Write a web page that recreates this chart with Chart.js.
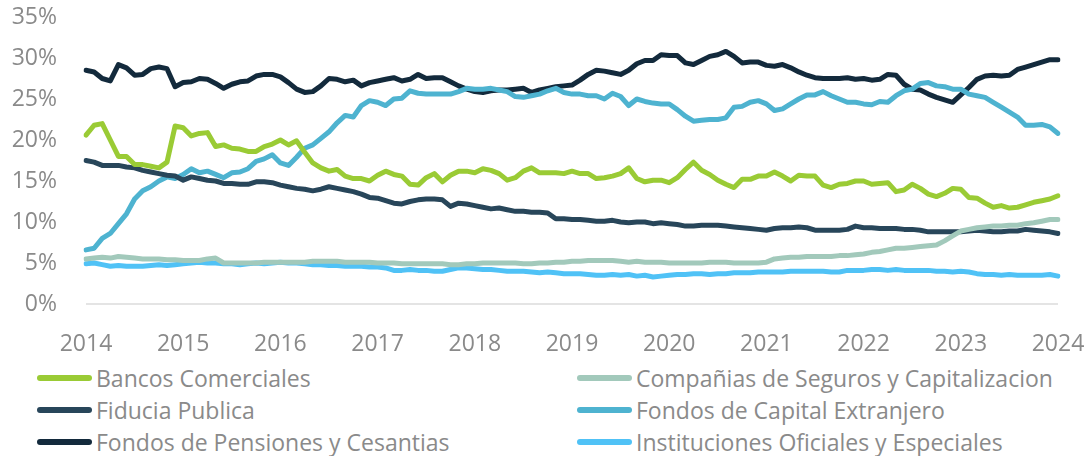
<!DOCTYPE html>
<html>
<head>
<meta charset="utf-8">
<script src="https://cdn.jsdelivr.net/npm/chart.js@4/dist/chart.umd.min.js"></script>
<style>
  body { margin: 0; background: #fff; font-family: "Open Sans", sans-serif; }
  #wrap { position: relative; width: 1087px; height: 362px; }
  #legend {
    position: absolute; top: 362px; left: 0; width: 1087px;
    display: grid; grid-template-columns: 577px 510px;
  }
  .item { display: flex; align-items: center; height: 32px; padding-left: 37px; color: #8a8a8a; font-size: 23px; font-weight: 400; }
  .item:nth-child(2n) { padding-left: 0; }
  .sw { width: 55px; height: 6px; border-radius: 3px; margin-right: 4px; }
</style>
</head>
<body>
<div id="wrap"><canvas id="myChart"></canvas></div>
<div id="legend"></div>
<script>
// monthly, Jan 2014 .. Jan 2024
const months = [];
for (let y = 2014; y <= 2024; y++) {
  for (let m = 1; m <= 12; m++) {
    if (y === 2024 && m > 1) break;
    months.push(y + '-' + String(m).padStart(2, '0'));
  }
}

const yTicks = [0, 5, 10, 15, 20, 25, 30, 35];

const bancos = [
  20.6, 21.8, 22.0, 20.0, 18.0, 18.0, 17.0, 17.0, 16.8, 16.6, 17.3, 21.7,
  21.5, 20.5, 20.8, 20.9, 19.2, 19.4, 19.0, 18.9, 18.6, 18.6, 19.2, 19.5,
  20.0, 19.4, 19.9, 18.5, 17.2, 16.6, 16.2, 16.4, 15.6, 15.3, 15.3, 15.0,
  15.7, 16.2, 15.8, 15.6, 14.6, 14.5, 15.4, 15.9, 14.9, 15.7, 16.2, 16.2,
  16.0, 16.5, 16.3, 15.9, 15.1, 15.4, 16.2, 16.6, 16.0, 16.0, 16.0, 15.9,
  16.2, 15.9, 15.9, 15.3, 15.4, 15.6, 15.9, 16.6, 15.3, 14.9, 15.1, 15.1,
  14.8, 15.4, 16.4, 17.3, 16.3, 15.8, 15.1, 14.6, 14.2, 15.2, 15.2, 15.6,
  15.6, 16.1, 15.6, 15.0, 15.7, 15.6, 15.6, 14.5, 14.2, 14.6, 14.7, 15.0,
  15.0, 14.6, 14.7, 14.8, 13.7, 13.9, 14.6, 14.1, 13.4, 13.1, 13.5, 14.1,
  14.0, 13.0, 12.9, 12.3, 11.8, 12.0, 11.7, 11.8, 12.1, 12.4, 12.6, 12.8,
  13.2
];

const seguros = [
  5.5, 5.6, 5.7, 5.6, 5.8, 5.7, 5.6, 5.5, 5.5, 5.5, 5.4, 5.4,
  5.3, 5.3, 5.3, 5.5, 5.6, 5.0, 5.0, 5.0, 5.0, 5.0, 5.1, 5.1,
  5.1, 5.1, 5.1, 5.1, 5.2, 5.2, 5.2, 5.2, 5.1, 5.1, 5.1, 5.1,
  5.0, 5.0, 5.0, 4.9, 4.9, 4.9, 4.9, 4.9, 4.9, 4.8, 4.8, 4.9,
  4.9, 5.0, 5.0, 5.0, 5.0, 5.0, 4.9, 4.9, 5.0, 5.0, 5.1, 5.1,
  5.2, 5.2, 5.3, 5.3, 5.3, 5.3, 5.2, 5.1, 5.2, 5.1, 5.1, 5.1,
  5.0, 5.0, 5.0, 5.0, 5.0, 5.1, 5.1, 5.1, 5.0, 5.0, 5.0, 5.0,
  5.1, 5.5, 5.6, 5.7, 5.7, 5.8, 5.8, 5.8, 5.8, 5.9, 5.9, 6.0,
  6.1, 6.3, 6.4, 6.6, 6.8, 6.8, 6.9, 7.0, 7.1, 7.2, 7.7, 8.3,
  8.9, 9.1, 9.3, 9.4, 9.5, 9.5, 9.6, 9.6, 9.8, 9.9, 10.1, 10.3,
  10.3
];

const fiducia = [
  17.5, 17.3, 16.9, 16.9, 16.9, 16.7, 16.6, 16.3, 16.1, 15.9, 15.7, 15.6,
  15.1, 15.5, 15.3, 15.1, 15.0, 14.7, 14.7, 14.6, 14.6, 14.9, 14.9, 14.8,
  14.5, 14.3, 14.1, 14.0, 13.8, 14.0, 14.3, 14.1, 13.9, 13.7, 13.4, 13.0,
  12.9, 12.6, 12.3, 12.2, 12.5, 12.7, 12.8, 12.8, 12.7, 11.9, 12.3, 12.2,
  12.0, 11.8, 11.6, 11.7, 11.5, 11.3, 11.3, 11.2, 11.2, 11.1, 10.4, 10.4,
  10.3, 10.3, 10.2, 10.1, 10.1, 10.2, 10.0, 9.9, 10.0, 10.0, 9.8, 9.9,
  9.8, 9.7, 9.5, 9.5, 9.6, 9.6, 9.6, 9.5, 9.4, 9.3, 9.2, 9.1,
  9.0, 9.2, 9.3, 9.3, 9.4, 9.3, 9.0, 9.0, 9.0, 9.0, 9.1, 9.5,
  9.3, 9.3, 9.2, 9.2, 9.2, 9.1, 9.1, 9.0, 8.8, 8.8, 8.8, 8.8,
  8.8, 8.9, 9.0, 8.9, 8.8, 8.8, 8.9, 8.9, 9.1, 9.0, 8.9, 8.8,
  8.6
];

const capital = [
  6.6, 6.8, 8.0, 8.6, 9.8, 11.0, 12.8, 13.8, 14.3, 15.0, 15.5, 15.3,
  15.8, 16.5, 16.0, 16.2, 15.8, 15.4, 16.0, 16.1, 16.5, 17.4, 17.7, 18.2,
  17.2, 16.9, 17.9, 19.0, 19.4, 20.2, 21.0, 22.1, 23.0, 22.8, 24.2, 24.8,
  24.6, 24.2, 25.0, 25.1, 26.0, 25.7, 25.6, 25.6, 25.6, 25.6, 25.9, 26.3,
  26.2, 26.2, 26.3, 26.1, 25.9, 25.3, 25.2, 25.4, 25.6, 26.0, 26.3, 25.8,
  25.6, 25.6, 25.4, 25.4, 25.0, 25.7, 25.3, 24.2, 25.0, 24.7, 24.5, 24.4,
  24.4, 23.7, 22.9, 22.3, 22.4, 22.5, 22.5, 22.7, 24.0, 24.1, 24.6, 24.8,
  24.4, 23.6, 23.8, 24.4, 25.0, 25.5, 25.5, 25.9, 25.4, 25.0, 24.6, 24.6,
  24.4, 24.3, 24.7, 24.6, 25.4, 26.0, 26.2, 26.9, 27.0, 26.6, 26.5, 26.2,
  26.2, 25.6, 25.4, 25.2, 24.6, 24.0, 23.4, 22.8, 21.8, 21.8, 21.9, 21.6,
  20.8
];

const pensiones = [
  28.5, 28.3, 27.5, 27.2, 29.2, 28.8, 27.9, 28.0, 28.7, 28.9, 28.7, 26.5,
  27.0, 27.1, 27.5, 27.4, 26.9, 26.3, 26.8, 27.1, 27.2, 27.8, 28.0, 28.0,
  27.7, 27.0, 26.2, 25.8, 25.9, 26.6, 27.5, 27.4, 27.1, 27.3, 26.6, 27.0,
  27.2, 27.4, 27.6, 27.2, 27.4, 28.0, 27.5, 27.6, 27.6, 27.1, 26.6, 26.2,
  25.9, 25.8, 26.0, 26.1, 26.1, 26.2, 26.3, 25.8, 26.1, 26.3, 26.5, 26.6,
  26.7, 27.3, 28.0, 28.5, 28.4, 28.2, 28.0, 28.5, 29.3, 29.7, 29.7, 30.4,
  30.3, 30.3, 29.4, 29.2, 29.7, 30.2, 30.4, 30.8, 30.2, 29.4, 29.5, 29.5,
  29.1, 29.0, 29.2, 28.8, 28.3, 27.9, 27.6, 27.5, 27.5, 27.5, 27.6, 27.4,
  27.5, 27.3, 27.4, 28.0, 27.9, 26.8, 26.2, 26.1, 25.6, 25.2, 24.9, 24.6,
  25.5, 26.4, 27.4, 27.8, 27.9, 27.8, 27.9, 28.6, 28.9, 29.2, 29.5, 29.8,
  29.8
];

const instituciones = [
  4.9, 5.0, 4.8, 4.6, 4.7, 4.6, 4.6, 4.6, 4.7, 4.8, 4.7, 4.8,
  4.9, 5.0, 5.1, 5.0, 5.0, 4.9, 4.9, 4.8, 4.9, 5.0, 4.9, 5.0,
  5.1, 5.0, 5.0, 4.9, 4.8, 4.8, 4.7, 4.7, 4.6, 4.6, 4.6, 4.5,
  4.5, 4.4, 4.1, 4.1, 4.2, 4.1, 4.1, 4.0, 4.0, 4.2, 4.4, 4.4,
  4.3, 4.2, 4.2, 4.1, 4.0, 4.0, 4.0, 3.9, 3.8, 3.9, 3.8, 3.7,
  3.7, 3.7, 3.6, 3.5, 3.5, 3.6, 3.5, 3.6, 3.4, 3.5, 3.3, 3.4,
  3.5, 3.6, 3.6, 3.7, 3.7, 3.6, 3.7, 3.7, 3.8, 3.8, 3.8, 3.9,
  3.9, 3.9, 3.9, 4.0, 4.0, 4.0, 4.0, 4.0, 3.9, 3.9, 4.1, 4.1,
  4.1, 4.2, 4.2, 4.1, 4.2, 4.1, 4.1, 4.1, 4.1, 4.0, 4.0, 3.9,
  4.0, 3.9, 3.7, 3.6, 3.6, 3.5, 3.6, 3.5, 3.5, 3.5, 3.5, 3.6,
  3.4
];

const seriesNames = [
  'Bancos Comerciales',
  'Compañias de Seguros y Capitalizacion',
  'Fiducia Publica',
  'Fondos de Capital Extranjero',
  'Fondos de Pensiones y Cesantias',
  'Instituciones Oficiales y Especiales'
];
const seriesData = [bancos, seguros, fiducia, capital, pensiones, instituciones];
const colors = ['#9acb35', '#a2c9bb', '#28465a', '#4eb3d0', '#132a3c', '#50c2f6'];

const tickColor = '#8a8a8a';
const font = { family: '"Open Sans", sans-serif', size: 23, weight: 400 };

const ctx = document.getElementById('myChart');
const chart = new Chart(ctx, {
  type: 'line',
  data: {
    labels: months,
    datasets: seriesNames.map((name, i) => ({
      label: name,
      data: seriesData[i],
      borderColor: colors[i],
      backgroundColor: colors[i],
      borderWidth: 5,
      pointRadius: 0,
      tension: 0,
      borderCapStyle: 'round',
      borderJoinStyle: 'round',
      fill: false
    }))
  },
  options: {
    responsive: true,
    maintainAspectRatio: false,
    animation: false,
    layout: { autoPadding: false, padding: { top: 17, right: 29, left: 0, bottom: 0 } },
    plugins: { legend: { display: false }, tooltip: { enabled: false } },
    scales: {
      x: {
        grid: { display: false, drawTicks: false },
        border: { display: false },
        afterFit: scale => {
          scale.height = 58;
          scale.paddingLeft = 0;
          scale.paddingRight = 0;
        },
        ticks: {
          color: tickColor,
          font: font,
          padding: 27,
          autoSkip: false,
          maxRotation: 0,
          callback: function (val, idx) {
            const lbl = months[idx];
            return lbl.endsWith('-01') ? lbl.slice(0, 4) : null;
          }
        }
      },
      y: {
        min: 0,
        max: 35,
        afterFit: scale => {
          scale.width = 86;
          scale.paddingTop = 0;
          scale.paddingBottom = 0;
        },
        afterBuildTicks: scale => { scale.ticks = yTicks.map(v => ({ value: v })); },
        grid: {
          drawTicks: false,
          lineWidth: 2,
          color: c => (c.tick && c.tick.value === 0 ? '#e4e4e4' : 'rgba(0,0,0,0)')
        },
        border: { display: false },
        ticks: {
          color: tickColor,
          font: font,
          padding: 29,
          callback: v => v + '%'
        }
      }
    }
  }
});

// two-column legend below the canvas
const legend = document.getElementById('legend');
chart.data.datasets.forEach(ds => {
  const item = document.createElement('div');
  item.className = 'item';
  item.innerHTML = '<span class="sw" style="background:' + ds.borderColor + '"></span><span>' + ds.label + '</span>';
  legend.appendChild(item);
});
</script>
</body>
</html>
